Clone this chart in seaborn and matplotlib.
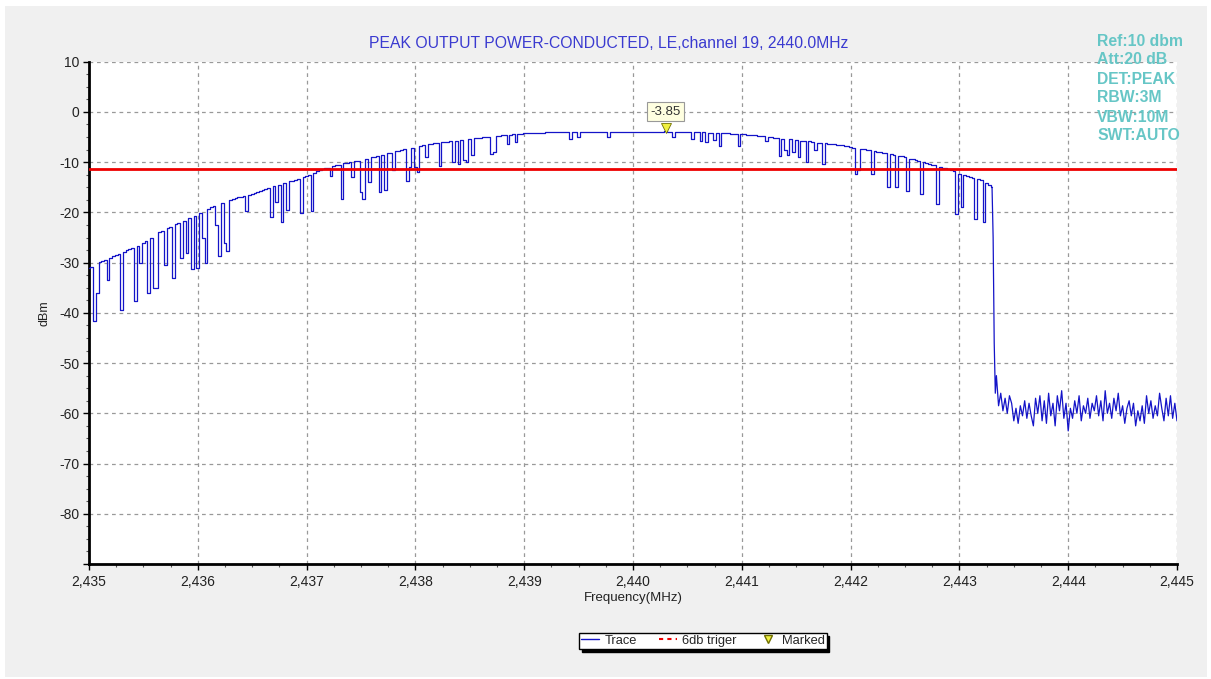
import numpy as np
import pandas as pd
import seaborn as sns
import matplotlib.pyplot as plt
from matplotlib.lines import Line2D
from matplotlib.patches import Rectangle
from matplotlib.ticker import MultipleLocator, FuncFormatter

# ---- data ----
# in-band trace, one value every 0.025 MHz from 2435.000 to 2443.300 MHz (rows of 0.5 MHz)
band_start = 2435.0
band_step = 0.025
band_dbm = [
    -31.0, -30.8, -41.7, -36.0, -29.8, -29.6, -29.4, -33.5, -29.0, -28.7, -28.5, -28.3, -39.4, -27.8, -27.5, -27.2, -27.0, -37.7, -26.6, -30.0,
    -26.0, -25.7, -36.0, -25.0, -35.0, -35.0, -24.0, -23.7, -30.5, -23.1, -22.9, -33.0, -22.4, -22.2, -29.0, -21.7, -28.0, -21.2, -31.3, -20.8,
    -31.0, -20.2, -25.0, -30.0, -19.3, -19.0, -18.8, -22.5, -28.7, -18.2, -26.0, -27.7, -17.6, -17.4, -17.2, -17.0, -16.9, -16.8, -19.7, -16.5,
    -16.3, -16.1, -15.9, -15.8, -15.6, -15.4, -15.2, -20.9, -14.8, -18.0, -14.5, -22.0, -14.2, -19.5, -13.8, -13.7, -13.5, -13.3, -20.2, -12.9,
    -12.7, -12.5, -19.7, -12.1, -11.8, -11.6, -11.4, -11.2, -11.1, -12.7, -10.8, -10.6, -10.5, -17.3, -10.2, -10.1, -10.0, -13.0, -9.8, -9.7,
    -16.0, -17.3, -9.3, -14.0, -9.0, -8.9, -8.8, -16.0, -8.5, -15.5, -8.2, -8.1, -11.5, -7.8, -7.7, -7.6, -7.4, -13.7, -11.0, -7.1,
    -11.0, -12.0, -6.7, -6.6, -9.0, -6.4, -6.3, -6.2, -6.1, -10.7, -6.0, -5.9, -5.9, -5.8, -10.0, -5.7, -10.3, -5.6, -9.5, -10.0,
    -5.4, -8.5, -5.2, -5.2, -5.1, -5.0, -5.0, -4.9, -8.3, -8.0, -4.7, -4.7, -4.6, -4.6, -6.3, -4.5, -4.4, -6.0, -4.3, -4.3,
    -4.2, -4.2, -4.2, -4.1, -4.1, -4.1, -4.1, -4.1, -4.0, -4.0, -4.0, -4.0, -4.0, -4.0, -4.0, -4.0, -4.0, -5.3, -4.0, -4.0,
    -5.0, -4.0, -3.9, -3.9, -3.9, -3.9, -3.9, -3.9, -3.9, -3.9, -3.9, -5.0, -3.9, -3.9, -3.9, -3.9, -3.9, -3.9, -3.9, -3.9,
    -3.9, -3.9, -3.9, -3.9, -3.9, -3.9, -3.9, -3.9, -3.9, -3.9, -3.9, -3.9, -3.85, -3.9, -3.9, -5.0, -3.9, -3.9, -3.9, -3.9,
    -3.9, -3.95, -5.3, -4.0, -4.0, -5.8, -4.05, -6.0, -4.1, -4.1, -5.5, -4.15, -6.7, -4.2, -4.2, -4.25, -4.3, -4.3, -4.35, -6.7,
    -4.4, -4.45, -4.5, -4.55, -4.6, -4.65, -4.7, -4.8, -4.85, -5.8, -4.95, -5.0, -5.1, -5.15, -8.7, -5.3, -7.5, -8.5, -5.45, -8.0,
    -5.6, -8.9, -5.7, -5.75, -10.0, -5.85, -5.9, -7.5, -6.1, -6.15, -10.3, -6.25, -6.3, -6.4, -6.45, -6.5, -6.6, -6.65, -6.7, -6.8,
    -7.0, -7.1, -12.3, -11.5, -7.4, -7.45, -7.5, -7.6, -12.3, -7.8, -7.9, -8.0, -8.1, -8.2, -15.0, -8.4, -8.5, -15.0, -8.7, -8.8,
    -9.0, -15.7, -9.3, -9.45, -9.6, -9.75, -16.3, -10.05, -10.2, -10.35, -10.5, -10.65, -18.3, -10.9, -11.1, -11.2, -11.4, -11.6, -11.8, -20.3,
    -12.3, -19.0, -12.6, -12.7, -13.0, -13.1, -21.3, -13.4, -13.6, -22.0, -14.2, -14.6, -15.0,
]

# band edge drop
edge_freq = [2443.31, 2443.32, 2443.33]
edge_dbm = [-25.0, -46.0, -56.0]

# noise floor, every 0.02 MHz from 2443.34 to 2445.00 MHz
floor_start = 2443.34
floor_step = 0.02
floor_dbm = [
    -52.5, -58.5, -56.0, -59.5, -57.0, -60.0, -56.5, -58.0, -61.5, -59.0, -62.0, -58.5,
    -60.5, -57.5, -61.0, -58.0, -60.5, -62.5, -57.0, -60.0, -56.5, -61.5, -57.5, -62.0,
    -56.0, -60.5, -58.0, -62.5, -56.5, -59.5, -55.5, -61.0, -58.0, -63.5, -59.0, -61.0,
    -57.5, -60.0, -56.5, -61.5, -58.5, -60.0, -57.0, -61.0, -58.0, -59.5, -56.5, -60.5,
    -57.5, -61.5, -55.5, -60.0, -58.0, -61.0, -57.0, -59.5, -56.0, -60.5, -58.5, -62.0,
    -59.0, -57.5, -60.5, -58.0, -62.5, -59.5, -61.5, -58.5, -62.0, -56.5, -60.0, -57.5,
    -61.0, -58.5, -60.5, -56.0, -59.0, -61.5, -57.0, -60.5, -56.5, -61.0, -58.0, -61.5,
]

trigger_level = -11.3
marker_freq = 2440.3
marker_dbm = -3.85

settings = ["Ref:10 dbm", "Att:20 dB", "DET:PEAK", "RBW:3M", "VBW:10M", "SWT:AUTO"]
title = "PEAK OUTPUT POWER-CONDUCTED, LE,channel 19, 2440.0MHz"

band = pd.DataFrame({"freq": band_start + band_step * np.arange(len(band_dbm)), "dbm": band_dbm})
tail = pd.DataFrame({
    "freq": np.concatenate([edge_freq, floor_start + floor_step * np.arange(len(floor_dbm))]),
    "dbm": np.concatenate([edge_dbm, floor_dbm]),
})
tail = pd.concat([band.tail(1), tail], ignore_index=True)

# ---- figure ----
sns.set_style("white")
plt.rcParams["font.family"] = ["Liberation Sans", "DejaVu Sans"]

W, H = 1211, 679
fig = plt.figure(figsize=(W / 100, H / 100), dpi=100, facecolor="white")
fig.patches.append(Rectangle((5 / W, 2 / H), 1202 / W, 671 / H, transform=fig.transFigure,
                             facecolor="#f0f0f0", edgecolor="none", zorder=-10))

ax = fig.add_axes([89 / W, 1 - 564 / H, (1177 - 89) / W, (564 - 61.7) / H])
ax.set_facecolor("white")

trace_color = "#1414c8"
sns.lineplot(data=band, x="freq", y="dbm", ax=ax, color=trace_color, linewidth=0.9,
             estimator=None, sort=False, drawstyle="steps-mid", zorder=3)
sns.lineplot(data=tail, x="freq", y="dbm", ax=ax, color=trace_color, linewidth=0.9,
             estimator=None, sort=False, zorder=3)
ax.axhline(trigger_level, color="#ee0000", linewidth=2, zorder=4)
ax.plot([marker_freq], [marker_dbm + 0.6], marker="v", color="#f0f040",
        markeredgecolor="#707000", markersize=7, markeredgewidth=0.6, zorder=5, linestyle="none")
ax.annotate(f"{marker_dbm:.2f}", xy=(marker_freq, marker_dbm + 3.9), ha="center", va="center",
            fontsize=9.5, color="#333333",
            bbox=dict(boxstyle="square,pad=0.25", facecolor="#ffffe0", edgecolor="#999999", linewidth=0.8),
            zorder=6)

ax.set_xlim(2435, 2445)
ax.set_ylim(-90, 10)
ax.xaxis.set_major_locator(MultipleLocator(1))
ax.xaxis.set_minor_locator(MultipleLocator(0.25))
ax.yaxis.set_major_locator(MultipleLocator(10))
ax.yaxis.set_minor_locator(MultipleLocator(2.5))
ax.xaxis.set_major_formatter(FuncFormatter(lambda v, p: f"{v:,.0f}"))
ax.yaxis.set_major_formatter(FuncFormatter(lambda v, p: f"{v:.0f}" if v > -90 else ""))
ax.tick_params(axis="both", which="major", length=4, width=1, color="black",
               labelsize=10, labelcolor="#222222", direction="out", left=True, bottom=True)
ax.tick_params(axis="x", which="major", pad=4)
ax.tick_params(axis="y", which="major", pad=3)
ax.tick_params(axis="both", which="minor", length=2.5, width=0.8, color="#555555",
               direction="out", left=True, bottom=True)
ax.grid(True, which="major", linestyle=(0, (3, 3)), color="#999999", linewidth=0.9)

for side in ["top", "right"]:
    ax.spines[side].set_visible(False)
for side in ["left", "bottom"]:
    ax.spines[side].set_color("black")
    ax.spines[side].set_linewidth(2)

ax.set_xlabel("Frequency(MHz)", fontsize=9.5, color="#222222", labelpad=2)
ax.set_ylabel("dBm", fontsize=9, color="#222222", labelpad=6)
fig.text(609 / W, 1 - 43 / H, title, fontsize=11.3, color="#3a3ad0", ha="center", va="center")

for i, s in enumerate(settings):
    fig.text(1097 / W, 1 - (41 + i * 19) / H, s, fontsize=11.3, fontweight="bold",
             color="#66c6c6", ha="left", va="center")

handles = [
    Line2D([], [], color=trace_color, linewidth=1),
    Line2D([], [], color="#ee0000", linewidth=1.5, linestyle=(0, (2, 2))),
    Line2D([], [], color="#f0f040", marker="v", markeredgecolor="#707000", linestyle="none", markersize=6),
]
leg = fig.legend(handles, ["Trace", "6db triger", "Marked"], loc="center",
                 bbox_to_anchor=(703 / W, 1 - 641 / H), ncol=3, fontsize=9.3,
                 frameon=True, fancybox=False, shadow={"color": "black", "alpha": 1},
                 edgecolor="black", handlelength=1.4, handletextpad=0.4, columnspacing=1.7,
                 borderpad=0.15)
leg.get_frame().set_linewidth(1)

fig.savefig("out.png", dpi=100, facecolor=fig.get_facecolor())
